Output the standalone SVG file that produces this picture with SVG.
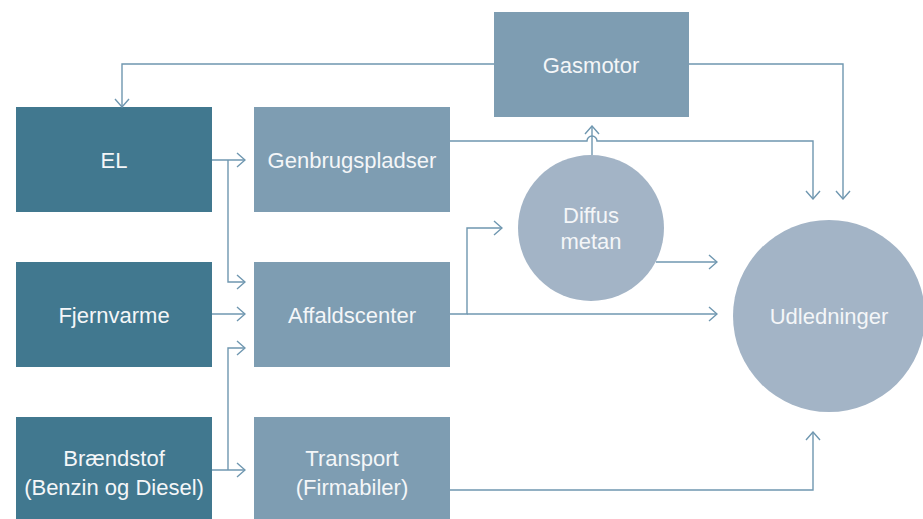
<svg xmlns="http://www.w3.org/2000/svg" width="923" height="519" viewBox="0 0 923 519">
  <style>
    .src { fill: #41788f; }
    .mid { fill: #7e9db2; }
    .circ { fill: #a3b4c6; }
    .lbl { fill: #f4f6f8; font-family: "Liberation Sans", Arial, sans-serif; font-size: 22px; text-anchor: middle; }
    .wire { fill: none; stroke: #6f97b0; stroke-width: 1.4; }
  </style>
  <defs>
    <marker id="arrow" viewBox="0 0 10 16" refX="9" refY="8" markerWidth="10" markerHeight="16" markerUnits="userSpaceOnUse" orient="auto">
      <path d="M1,1 L9,8 L1,15" fill="none" stroke="#6f97b0" stroke-width="1.4"/>
    </marker>
  </defs>
  <rect width="923" height="519" fill="#ffffff"/>

  <!-- nodes -->
  <g id="el"><rect class="src" x="16" y="107" width="196" height="105"/><text class="lbl" x="114" y="168">EL</text></g>
  <g id="fjernvarme"><rect class="src" x="16" y="262" width="196" height="105"/><text class="lbl" x="114" y="323">Fjernvarme</text></g>
  <g id="braendstof"><rect class="src" x="16" y="417" width="196" height="102"/><text class="lbl" x="114" y="466">Brændstof</text><text class="lbl" x="114" y="495">(Benzin og Diesel)</text></g>
  <g id="genbrugspladser"><rect class="mid" x="254" y="107" width="196" height="105"/><text class="lbl" x="352" y="168">Genbrugspladser</text></g>
  <g id="affaldscenter"><rect class="mid" x="254" y="262" width="196" height="105"/><text class="lbl" x="352" y="323">Affaldscenter</text></g>
  <g id="transport"><rect class="mid" x="254" y="417" width="196" height="102"/><text class="lbl" x="352" y="466">Transport</text><text class="lbl" x="352" y="495">(Firmabiler)</text></g>
  <g id="gasmotor"><rect class="mid" x="494" y="12" width="195" height="105"/><text class="lbl" x="591" y="73">Gasmotor</text></g>
  <g id="diffus-metan"><circle class="circ" cx="591" cy="228" r="73"/><text class="lbl" x="591" y="223">Diffus</text><text class="lbl" x="591" y="249">metan</text></g>
  <g id="udledninger"><circle class="circ" cx="829" cy="316" r="96"/><text class="lbl" x="829" y="324">Udledninger</text></g>

  <!-- connectors -->
  <g id="connectors">
    <path class="wire" d="M212,160 H245" marker-end="url(#arrow)"/>
    <path class="wire" d="M228,160 V282 H245" marker-end="url(#arrow)"/>
    <path class="wire" d="M212,314 H245" marker-end="url(#arrow)"/>
    <path class="wire" d="M212,470 H245" marker-end="url(#arrow)"/>
    <path class="wire" d="M228,470 V348 H245" marker-end="url(#arrow)"/>
    <path class="wire" d="M494,64 H122 V107" marker-end="url(#arrow)"/>
    <path class="wire" d="M689,64 H843 V199" marker-end="url(#arrow)"/>
    <path class="wire" d="M450,141 H587 A5,5 0 0 1 597,141 H813 V199" marker-end="url(#arrow)"/>
    <path class="wire" d="M592,155 V126" marker-end="url(#arrow)"/>
    <path class="wire" d="M450,314 H467 V228 H502" marker-end="url(#arrow)"/>
    <path class="wire" d="M467,314 H717" marker-end="url(#arrow)"/>
    <path class="wire" d="M656,262 H717" marker-end="url(#arrow)"/>
    <path class="wire" d="M450,490 H813 V432" marker-end="url(#arrow)"/>
  </g>
</svg>
